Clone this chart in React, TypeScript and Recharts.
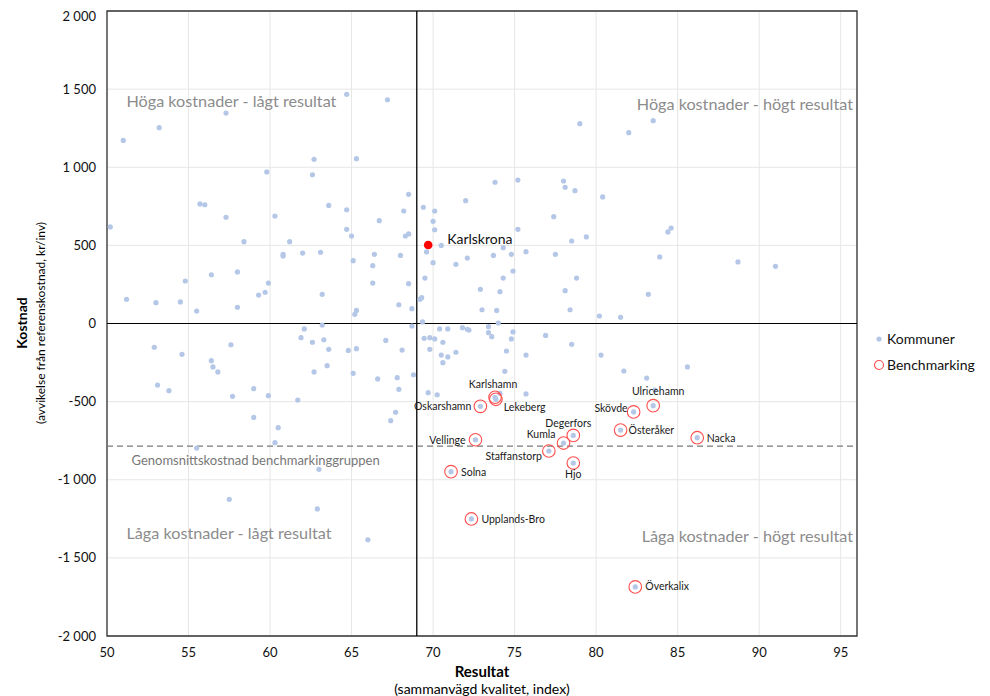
import React from 'react';
import {
  ScatterChart,
  Scatter,
  XAxis,
  YAxis,
  CartesianGrid,
  ReferenceLine,
  ReferenceArea,
  Label,
} from 'recharts';

const FONT = 'Lato, "Noto Sans", "DejaVu Sans", sans-serif';

// ---- Data ----
const kommunerX = [
  64.7, 67.2, 57.3, 53.2, 51.0, 62.7, 65.3, 59.8, 62.6, 68.5, 55.7, 56.0, 63.6, 64.7, 68.2, 69.4, 57.3, 60.3, 66.7, 50.2,
  64.7, 65.0, 68.3, 68.5, 58.4, 61.2, 60.8, 60.8, 62.0, 63.1, 66.4, 68.0, 69.6, 65.1, 66.3, 54.8, 56.4, 58.0, 59.9, 66.3,
  68.5, 69.5, 51.2, 53.0, 54.5, 55.5, 58.0, 59.3, 59.7, 63.2, 65.2, 65.3, 67.9, 68.7, 69.2, 69.3, 69.35, 68.7, 62.1, 63.2,
  79.0, 82.0, 83.5, 73.8, 75.2, 78.0, 78.1, 78.7, 80.4, 72.0, 70.1, 70.0, 70.1, 77.4, 84.4, 84.6, 75.2, 78.5, 79.4, 70.5,
  74.3, 73.7, 74.8, 75.7, 72.1, 71.4, 77.5, 83.9, 88.7, 91.0, 70.0, 74.3, 74.9, 78.8, 72.9, 74.1, 78.1, 83.2, 73.0, 73.9,
  78.4, 80.2, 81.5, 74.0, 61.9, 62.6, 63.3, 63.6, 64.8, 65.3, 67.1, 68.1, 69.45, 52.9, 54.6, 57.6, 56.4, 56.5, 56.8, 62.7,
  63.5, 65.1, 66.6, 67.8, 68.8, 67.9, 53.1, 53.8, 57.7, 59.0, 59.9, 61.7, 59.0, 60.5, 60.3, 55.5, 67.7, 67.4, 63.0, 57.5,
  62.9, 66.0, 69.7, 69.8, 70.1, 70.4, 70.9, 70.6, 69.8, 70.5, 70.9, 70.6, 71.4, 71.8, 72.1, 72.2, 73.4, 73.4, 73.6, 74.9,
  74.8, 74.5, 74.4, 76.9, 75.7, 78.5, 80.3, 81.7, 83.1, 85.6, 70.25, 75.7, 83.6, 74.1,
];
const kommunerY = [
  1467, 1432, 1347, 1253, 1172, 1051, 1055, 970, 952, 827, 765, 760, 756, 728, 720, 744, 680, 688, 658, 618,
  603, 560, 560, 573, 524, 524, 443, 432, 451, 456, 443, 436, 458, 402, 370, 272, 312, 330, 259, 259,
  255, 291, 155, 133, 138, 80, 104, 182, 200, 187, 59, 84, 120, 95, 155, 165, 10, -16, -35, -10,
  1279, 1221, 1298, 904, 918, 912, 872, 850, 810, 786, 720, 654, 600, 684, 586, 611, 603, 528, 554, 500,
  485, 436, 443, 460, 419, 379, 443, 426, 394, 366, 389, 291, 336, 291, 219, 204, 210, 187, 88, 84,
  88, 48, 40, 3, -91, -120, -104, -165, -172, -161, -108, -170, -95, -152, -197, -136, -238, -278, -310, -310,
  -270, -319, -355, -347, -328, -421, -394, -430, -466, -417, -462, -490, -601, -667, -763, -797, -568, -622, -933, -1125,
  -1187, -1384, -443, -91, -99, -35, -35, -120, -165, -202, -214, -251, -184, -27, -37, -42, -20, -59, -84, -54,
  -99, -176, -306, -76, -202, -133, -202, -304, -349, -278, -456, -451, -426, -447,
];

const benchmarkNames = [
  'Karlshamn', 'Lekeberg', 'Oskarshamn', 'Vellinge', 'Solna', 'Staffanstorp', 'Kumla', 'Degerfors',
  'Hjo', 'Skövde', 'Ulricehamn', 'Österåker', 'Nacka', 'Upplands-Bro', 'Överkalix',
];
const benchmarkX = [73.8, 73.85, 72.9, 72.6, 71.1, 77.1, 78.0, 78.6, 78.6, 82.3, 83.5, 81.5, 86.2, 72.35, 82.4];
const benchmarkY = [-472, -485, -530, -744, -948, -816, -765, -716, -893, -566, -526, -682, -731, -1251, -1686];

const highlightNames = ['Karlskrona'];
const highlightX = [69.7];
const highlightY = [502];

const xTicks = [50, 55, 60, 65, 70, 75, 80, 85, 90, 95];
const yTicks = [-2000, -1500, -1000, -500, 0, 500, 1000, 1500, 2000];
const xDomain = [50, 96];
const yDomain = [-2000, 2000];
const qualityThreshold = 69;
const avgBenchmarkCost = -785;

// ---- Tables built from arrays ----
const kommunerData = [
  ...kommunerX.map((x, i) => ({ x, y: kommunerY[i] })),
  ...benchmarkX.map((x, i) => ({ x, y: benchmarkY[i] })),
];
const benchmarkData = benchmarkX.map((x, i) => ({ x, y: benchmarkY[i], name: benchmarkNames[i] }));
const highlightData = highlightX.map((x, i) => ({ x, y: highlightY[i], name: highlightNames[i] }));

// label placement (style config): [dx, dy, anchor]
const labelPlacement: Record<string, [number, number, string]> = {
  Karlshamn: [-2, -13, 'middle'],
  Lekeberg: [8, 8, 'start'],
  Oskarshamn: [-9, 0, 'end'],
  Vellinge: [-10, 0, 'end'],
  Solna: [10, 0, 'start'],
  Staffanstorp: [-7, 5, 'end'],
  Kumla: [-8, -9, 'end'],
  Degerfors: [-5, -12, 'middle'],
  Hjo: [0, 11, 'middle'],
  Skövde: [-6, -4, 'end'],
  Ulricehamn: [5, -15, 'middle'],
  Österåker: [8, 0, 'start'],
  Nacka: [9.5, 0, 'start'],
  'Upplands-Bro': [10, 0, 'start'],
  Överkalix: [10, -1, 'start'],
};

const COLOR_DOT = '#b4c7e7';
const COLOR_RING = '#ff4d4d';

const fmtY = (v: number) => {
  const s = String(Math.abs(v));
  const body = s.length > 3 ? s.slice(0, -3) + ' ' + s.slice(-3) : s;
  return (v < 0 ? '-' : '') + body;
};

const KommunDot = (props: any) => {
  const { cx, cy } = props;
  if (cx == null || cy == null) return null;
  return <circle cx={cx} cy={cy} r={2.6} fill={COLOR_DOT} />;
};

const BenchmarkRing = (props: any) => {
  const { cx, cy, payload } = props;
  if (cx == null || cy == null) return null;
  const p = labelPlacement[payload.name] || [10, 0, 'start'];
  return (
    <g>
      <circle cx={cx} cy={cy} r={6.3} fill="none" stroke={COLOR_RING} strokeWidth={1.1} />
      <text
        x={cx + p[0]}
        y={cy + p[1]}
        textAnchor={p[2] as any}
        dominantBaseline="central"
        fontFamily={FONT}
        fontSize={10.5}
        fill="#1a1a1a"
      >
        {payload.name}
      </text>
    </g>
  );
};

const HighlightDot = (props: any) => {
  const { cx, cy, payload } = props;
  if (cx == null || cy == null) return null;
  return (
    <g>
      <circle cx={cx} cy={cy} r={4.3} fill="#ff0000" />
      <text x={cx + 19} y={cy - 7} dominantBaseline="central" fontFamily={FONT} fontSize={14} fill="#111">
        {payload.name}
      </text>
    </g>
  );
};

const XTitle = () => (
  <g fontFamily={FONT} fill="#000">
    <text x={474} y={669} textAnchor="middle" fontSize={15} fontWeight="bold">Resultat</text>
    <text x={474} y={686} textAnchor="middle" fontSize={14}>(sammanvägd kvalitet, index)</text>
  </g>
);

const YTitle = () => (
  <g fontFamily={FONT} fill="#000">
    <text x={13} y={315} transform="rotate(-90 13 315)" textAnchor="middle" dominantBaseline="central" fontSize={14} fontWeight="bold">
      Kostnad
    </text>
    <text x={32} y={315} transform="rotate(-90 32 315)" textAnchor="middle" dominantBaseline="central" fontSize={12}>
      (avvikelse från referenskostnad, kr/inv)
    </text>
  </g>
);

const QuadrantTexts = () => (
  <g fontFamily={FONT}>
    <text x={118.5} y={99} fontSize={16.2} fill="#8c8c8c">Höga kostnader - lågt resultat</text>
    <text x={845} y={101.5} fontSize={16.2} fill="#8c8c8c" textAnchor="end">Höga kostnader - högt resultat</text>
    <text x={118.5} y={530.5} fontSize={16.2} fill="#8c8c8c">Låga kostnader - lågt resultat</text>
    <text x={845} y={533.5} fontSize={16.2} fill="#8c8c8c" textAnchor="end">Låga kostnader - högt resultat</text>
    <text x={123.5} y={456.5} fontSize={13} fill="#777">Genomsnittskostnad benchmarkinggruppen</text>
  </g>
);

const LegendBox = () => (
  <div
    style={{
      position: 'absolute',
      left: 865,
      top: 318,
      fontFamily: FONT,
      fontSize: 14,
      color: '#111',
      lineHeight: '26px',
    }}
  >
    <div style={{ display: 'flex', alignItems: 'center' }}>
      <svg width={12} height={12} style={{ marginRight: 2 }}>
        <circle cx={6} cy={6} r={2.6} fill={COLOR_DOT} />
      </svg>
      <span>Kommuner</span>
    </div>
    <div style={{ display: 'flex', alignItems: 'center' }}>
      <svg width={12} height={12} style={{ marginRight: 2 }}>
        <circle cx={6} cy={6} r={4.5} fill="none" stroke={COLOR_RING} strokeWidth={1.1} />
      </svg>
      <span>Benchmarking</span>
    </div>
  </div>
);

export default function App() {
  return (
    <div style={{ position: 'relative', width: 982, height: 688 }}>
      <ScatterChart width={982} height={688} margin={{ top: 3, right: 133, bottom: 0, left: 0 }}>
        <CartesianGrid stroke="#e6e6e6" strokeWidth={1} />
        <XAxis
          type="number"
          dataKey="x"
          domain={xDomain}
          ticks={xTicks}
          allowDataOverflow
          height={60}
          axisLine={false}
          tickLine={false}
          tickSize={0}
          tickMargin={12}
          tick={{ fontFamily: FONT, fontSize: 13, fill: '#111' }}
        >
          <Label content={<XTitle />} />
        </XAxis>
        <YAxis
          type="number"
          dataKey="y"
          domain={yDomain}
          ticks={yTicks}
          allowDataOverflow
          width={99}
          axisLine={false}
          tickLine={false}
          tickSize={0}
          tickMargin={11}
          tickFormatter={fmtY}
          tick={{ fontFamily: FONT, fontSize: 13, fill: '#111' }}
        >
          <Label content={<YTitle />} />
        </YAxis>
        <ReferenceArea
          x1={50}
          x2={96}
          y1={-2000}
          y2={2000}
          fill="none"
          fillOpacity={0}
          stroke="#333"
          strokeWidth={1.3}
          label={<QuadrantTexts />}
        />
        <ReferenceLine y={0} stroke="#000" strokeWidth={1.1} />
        <ReferenceLine x={qualityThreshold} stroke="#000" strokeWidth={1.3} />
        <ReferenceLine y={avgBenchmarkCost} stroke="#7a7a7a" strokeWidth={1.3} strokeDasharray="6 4" />
        <Scatter name="Kommuner" data={kommunerData} shape={<KommunDot />} isAnimationActive={false} />
        <Scatter name="Benchmarking" data={benchmarkData} shape={<BenchmarkRing />} isAnimationActive={false} />
        <Scatter name="Karlskrona" data={highlightData} shape={<HighlightDot />} isAnimationActive={false} />
      </ScatterChart>
      <LegendBox />
    </div>
  );
}
